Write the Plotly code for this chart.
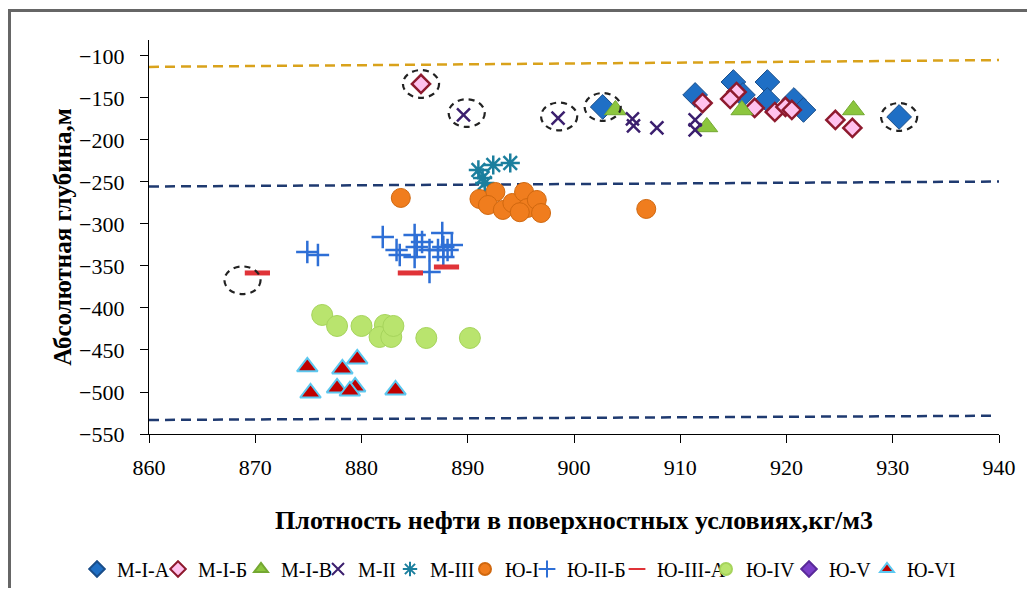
import plotly.graph_objects as go

# ---------------- data ----------------
mia_x = [902.7, 911.4, 915.0, 915.9, 918.2, 918.2, 920.7, 921.6, 930.6]
mia_y = [-160.7, -146.4, -131.0, -146.4, -131.0, -152.4, -152.4, -164.3, -172.6]

mib_x = [885.6, 912.1, 915.3, 914.7, 917.0, 918.9, 919.9, 920.5, 924.6, 926.2]
mib_y = [-133.3, -156.0, -142.9, -151.2, -161.9, -166.7, -160.7, -164.3, -176.2, -185.7]

miv_x = [903.9, 912.5, 915.8, 926.3]
miv_y = [-164.3, -184.5, -164.3, -164.3]

mii_x = [889.6, 898.5, 905.5, 905.6, 907.8, 911.4, 911.4]
mii_y = [-170.2, -174.0, -175.0, -183.3, -185.7, -176.2, -188.1]

miii_x = [891.0, 891.4, 891.6, 892.4, 894.0]
miii_y = [-235.7, -245.2, -251.2, -229.8, -227.4]

yi_x = [883.7, 906.8, 891.1, 892.6, 891.9, 893.3, 894.2, 895.3, 895.6, 896.5, 896.9, 894.9]
yi_y = [-269.0, -282.1, -270.2, -261.9, -277.4, -283.3, -275.0, -261.9, -281.0, -271.4, -286.9, -286.0]

yiib_x = [874.9, 875.9, 882.0, 883.3, 883.6, 885.0, 885.2, 885.7, 885.0, 886.4, 886.4,
          887.6, 887.7, 888.1, 888.5, 887.7, 887.2]
yiib_y = [-333.3, -336.9, -315.5, -331.0, -336.9, -313.1, -327.4, -321.4, -339.3, -331.0, -357.1,
          -310.7, -327.4, -331.0, -325.0, -339.3, -331.0]

yiiia_x = [870.2, 884.6, 888.0]
yiiia_y = [-358.3, -358.3, -351.2]

yiv_x = [876.3, 877.7, 880.0, 882.2, 881.7, 882.8, 883.0, 886.1, 890.2]
yiv_y = [-408.3, -421.4, -421.4, -420.2, -434.5, -434.5, -421.4, -435.7, -435.7]

yv_x = []
yv_y = []

yvi_x = [874.9, 878.2, 879.6, 875.2, 877.7, 879.4, 878.9, 883.2]
yvi_y = [-470.0, -472.6, -460.7, -501.2, -495.2, -494.0, -498.8, -497.6]

# boundary lines (dashed)
top_line_x = [860, 941.2]
top_line_y = [-113.0, -104.8]
mid_line_x = [860, 941.2]
mid_line_y = [-255.4, -249.4]
low_line_x = [860, 939.3]
low_line_y = [-533.3, -528.3]

# highlighted points (dashed circles)
hl_x = [885.6, 889.9, 898.6, 902.7, 930.6, 868.8]
hl_y = [-133.3, -168.0, -172.0, -160.7, -172.6, -367.0]

x_ticks = [860, 870, 880, 890, 900, 910, 920, 930, 940]
y_ticks = [-100, -150, -200, -250, -300, -350, -400, -450, -500, -550]

SERIF = "Liberation Serif, Times New Roman, DejaVu Serif, serif"

# layout geometry (figure pixels)
W, H = 1019, 580
L, T, PW, PH = 141, 32, 850, 394
R, B = W - L - PW, H - T - PH


def px_x(fx):
    return (fx - L) / PW


def px_y(fy):
    return (T + PH - fy) / PH


fig = go.Figure()

# dashed lines
for lx, ly, col in [(top_line_x, top_line_y, "#D9A21B"),
                    (mid_line_x, mid_line_y, "#1F3A70"),
                    (low_line_x, low_line_y, "#1F3A70")]:
    fig.add_trace(go.Scatter(x=lx, y=ly, mode="lines", showlegend=False, hoverinfo="skip",
                             cliponaxis=False,
                             line=dict(color=col, width=2.5, dash="10px,6px")))

series = [
    ("М-I-А", mia_x, mia_y, dict(symbol="diamond", size=19, color="#1F6FC5",
                                   line=dict(color="#1A4E8A", width=1)), 36),
    ("М-I-Б", mib_x, mib_y, dict(symbol="diamond", size=14, color="#FFC2EE",
                                   line=dict(color="#8E1A2E", width=2.5)), 38),
    ("М-I-В", miv_x, miv_y, dict(symbol="triangle-up", size=19, color="#8CC63E",
                                   line=dict(color="#74A832", width=1)), 32),
    ("М-II", mii_x, mii_y, dict(symbol="x-thin-open", size=13, color="#3B1F6E",
                                  line=dict(color="#3B1F6E", width=2.5)), 27),
    ("М-III", miii_x, miii_y, dict(symbol="asterisk-open", size=16, color="#1B7F9E",
                                     line=dict(color="#1B7F9E", width=2.5)), 30),
    ("Ю-I", yi_x, yi_y, dict(symbol="circle", size=19, color="#F07D1E",
                               line=dict(color="#D0680F", width=1)), 17),
    ("Ю-II-Б", yiib_x, yiib_y, dict(symbol="cross-thin-open", size=16, color="#2E6FD6",
                                      line=dict(color="#2E6FD6", width=2.5)), 45),
    ("Ю-III-А", yiiia_x, yiiia_y, dict(symbol="line-ew-open", size=18, color="#E03338",
                                         line=dict(color="#E03338", width=5)), 44),
    ("Ю-IV", yiv_x, yiv_y, dict(symbol="circle", size=21, color="#B9E46E",
                                  line=dict(color="#A6D45C", width=1)), 38),
    ("Ю-V", yv_x, yv_y, dict(symbol="diamond", size=14, color="#7B3FC8",
                               line=dict(color="#5A2A9A", width=1)), 33),
    ("Ю-VI", yvi_x, yvi_y, dict(symbol="triangle-up", size=18, color="#C00000",
                                  line=dict(color="#5CC8F0", width=2)), 50),
]

for name, xs, ys, mk, lw in series:
    fig.add_trace(go.Scatter(x=xs if xs else [None], y=ys if ys else [None], mode="markers",
                             name=name, marker=mk, legendwidth=lw))

# dashed highlight ellipses
rx, ry = 1.7, 16.5
for cx, cy in zip(hl_x, hl_y):
    fig.add_shape(type="circle", xref="x", yref="y",
                  x0=cx - rx, x1=cx + rx, y0=cy - ry, y1=cy + ry,
                  line=dict(color="#222222", width=2.2, dash="6px,5px"))

# outer frame
fig.add_shape(type="rect", xref="paper", yref="paper",
              x0=px_x(1.5), x1=px_x(W + 20),
              y0=px_y(H + 20), y1=px_y(2.5),
              line=dict(color="#666666", width=3))

fig.update_layout(
    width=W, height=H,
    margin=dict(l=L, r=R, t=T, b=B, autoexpand=False),
    paper_bgcolor="white", plot_bgcolor="white",
    font=dict(family=SERIF, size=19, color="black"),
    showlegend=True,
    legend=dict(orientation="h", x=px_x(69), xanchor="left",
                y=px_y(561), yanchor="middle",
                font=dict(family=SERIF, size=20, color="black"),
                itemsizing="constant", bgcolor="rgba(0,0,0,0)", tracegroupgap=0),
    xaxis=dict(range=[860, 940], tickvals=x_ticks, ticks="outside", ticklen=8,
               tickcolor="black", showline=True, linecolor="black", linewidth=1.3,
               showgrid=False, zeroline=False, tickfont=dict(family=SERIF, size=22),
               ticklabelstandoff=5, automargin=False,
               title=dict(text="<b>Плотность нефти в поверхностных условиях,кг/м3</b>",
                          font=dict(family=SERIF, size=26), standoff=32)),
    yaxis=dict(range=[-550, -81], tickvals=y_ticks, ticks="outside", ticklen=8,
               tickcolor="black", showline=True, linecolor="black", linewidth=1.3,
               showgrid=False, zeroline=False, tickfont=dict(family=SERIF, size=22),
               ticklabelstandoff=11, automargin=False,
               title=dict(text="<b>Абсолютная глубина,м</b>",
                          font=dict(family=SERIF, size=25), standoff=0)),
)

fig.write_html("out.html")
